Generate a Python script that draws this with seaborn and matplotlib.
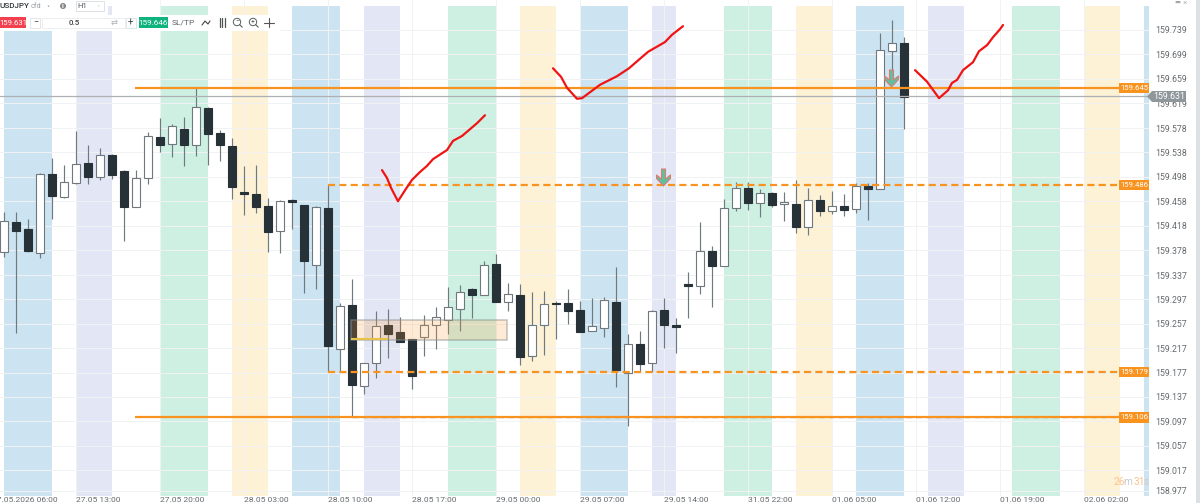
import matplotlib
matplotlib.use("Agg")
import matplotlib.pyplot as plt
import seaborn as sns
import pandas as pd
import numpy as np
from matplotlib.patches import Rectangle, Polygon, Circle
from matplotlib.path import Path
from matplotlib.transforms import Affine2D

# ---- candle data (hourly USDJPY) ----
opens = [159.375,159.424,159.412,159.373,159.503,159.465,159.488,159.521,159.498,159.534,159.508,159.448,159.496,159.563,159.552,159.576,159.550,159.611,159.570,159.549,159.473,159.470,159.450,159.409,159.460,159.452,159.353,159.447,159.216,159.288,159.155,159.193,159.255,159.243,159.232,159.235,159.255,159.263,159.281,159.314,159.304,159.355,159.293,159.304,159.204,159.255,159.291,159.291,159.280,159.245,159.250,159.293,159.176,159.224,159.193,159.280,159.255,159.322,159.319,159.376,159.352,159.447,159.480,159.455,159.471,159.453,159.453,159.416,159.460,159.442,159.450,159.445,159.483,159.478,159.704,159.717]
closes = [159.426,159.409,159.376,159.503,159.467,159.490,159.519,159.498,159.534,159.501,159.448,159.496,159.565,159.550,159.581,159.550,159.613,159.568,159.550,159.481,159.470,159.448,159.408,159.458,159.457,159.360,159.448,159.221,159.286,159.157,159.193,159.253,159.240,159.227,159.171,159.255,159.268,159.285,159.309,159.304,159.353,159.293,159.306,159.203,159.255,159.289,159.289,159.278,159.243,159.253,159.296,159.181,159.224,159.191,159.278,159.255,159.252,159.319,159.376,159.352,159.447,159.480,159.455,159.471,159.452,159.457,159.416,159.460,159.442,159.450,159.444,159.483,159.478,159.706,159.717,159.629]
highs = [159.440,159.440,159.429,159.504,159.529,159.517,159.573,159.550,159.545,159.535,159.509,159.509,159.572,159.594,159.585,159.596,159.644,159.613,159.575,159.562,159.516,159.517,159.463,159.460,159.461,159.452,159.450,159.485,159.291,159.330,159.193,159.278,159.281,159.268,159.232,159.271,159.285,159.317,159.321,159.316,159.360,159.371,159.324,159.322,159.309,159.311,159.294,159.314,159.294,159.299,159.301,159.350,159.240,159.245,159.280,159.299,159.266,159.342,159.424,159.385,159.462,159.490,159.490,159.478,159.473,159.473,159.493,159.480,159.468,159.475,159.470,159.488,159.488,159.734,159.755,159.727]
lows = [159.367,159.242,159.375,159.365,159.429,159.463,159.487,159.486,159.493,159.494,159.393,159.448,159.486,159.539,159.531,159.516,159.532,159.517,159.524,159.462,159.435,159.439,159.375,159.373,159.412,159.307,159.314,159.178,159.178,159.106,159.142,159.168,159.201,159.227,159.150,159.204,159.216,159.240,159.245,159.266,159.304,159.293,159.278,159.189,159.196,159.206,159.232,159.257,159.243,159.245,159.235,159.153,159.089,159.178,159.178,159.217,159.209,159.266,159.306,159.285,159.352,159.442,159.444,159.432,159.448,159.426,159.406,159.403,159.434,159.437,159.434,159.439,159.427,159.478,159.652,159.576]

# ---- session bands (candle index from/to, colour) ----
band_start = [0,6,13,19,24,30,37,43,48,54,60,66,71,77,84,90,95]
band_end   = [4,9,17,22,28,33,41,46,52,56,64,69,75,80,88,93,96]
band_color = [
    "#cce3f1","#e3e6f4","#cdf0e3","#fdf1d6","#cce3f1","#e3e6f4","#cdf0e3","#fdf1d6",
    "#cce3f1","#e3e6f4","#cdf0e3","#fdf1d6","#cce3f1","#e3e6f4","#cdf0e3","#fdf1d6","#cce3f1"]

# ---- horizontal levels ----
level_price = [159.644, 159.485, 159.178, 159.104]
level_start = [10.92, 27, 27, 10.92]
level_end   = [92.92, 92.92, 92.92, 92.92]
level_dash  = [False, True, True, False]
level_text  = ["159.645", "159.486", "159.179", "159.106"]
current_price = 159.630

# ---- hand-drawn red strokes ----
s1_x = [31.5,31.92,32.25,32.83,33.42,34,34.67,35.25,35.75,36.92,37.42,38.17,39.42,40.08]
s1_y = [159.509,159.496,159.480,159.458,159.476,159.493,159.506,159.516,159.527,159.542,159.557,159.565,159.586,159.599]
s2_x = [45.75,46.42,46.92,47.75,48.17,49.67,51.08,52.08,53.67,55.08,55.67,56.58]
s2_y = [159.676,159.662,159.644,159.626,159.627,159.649,159.663,159.676,159.703,159.719,159.731,159.745]
s3_x = [75.92,76.92,77.92,78.67,79,79.42,79.92,80.75,81.25,81.92,82.42,83,83.25]
s3_y = [159.673,159.654,159.627,159.640,159.652,159.657,159.673,159.686,159.704,159.714,159.727,159.740,159.747]

# ---- sell arrows ----
arrow_x = [54.92, 73.9]
arrow_y = [159.498, 159.660]

# ---- highlighted zone ----
zone_x = [28.92, 41.92]
zone_y = [159.230, 159.263]
zone_line_x = [28.92, 32.0]
zone_line_y = 159.232

# ---- axis ticks ----
y_tick_text = ["159.739","159.699","159.659","159.619","159.578","159.538","159.498","159.458","159.418","159.378",
               "159.337","159.297","159.257","159.217","159.177","159.137","159.097","159.057","159.017","158.977"]
x_tick_pos = [-1,6,13,20,27,34,41,48,55,62,69,76,83,90]
x_tick_text = ["27.05.2026 06:00","27.05 13:00","27.05 20:00","28.05 03:00","28.05 10:00","28.05 17:00",
               "29.05 00:00","29.05 07:00","29.05 14:00","31.05 22:00","01.06 05:00","01.06 12:00",
               "01.06 19:00","02.06 02:00"]

sns.set_theme(style="white")
plt.rcParams["font.family"] = ["Roboto", "DejaVu Sans"]

W, H = 1200, 503
fig = plt.figure(figsize=(W/100, H/100), dpi=100, facecolor="white")
ax = fig.add_axes([0, (H-496)/H, 1149/W, 496/H])
PX = Affine2D().scale(1, -1).translate(0, H)

df = pd.DataFrame({"i": np.arange(len(opens)), "o": opens, "h": highs, "l": lows, "c": closes})
df["top"] = df[["o", "c"]].max(axis=1)
df["bot"] = df[["o", "c"]].min(axis=1)
df["up"] = df["c"] >= df["o"]

ymax_frac = (496-6)/496
for a, b, col in zip(band_start, band_end, band_color):
    ax.axvspan(a, b, ymin=0, ymax=ymax_frac, color=col, lw=0, zorder=1)

y_ticks = [float(t) for t in y_tick_text]
y_ticks[-1] = 158.983
ax.set_yticks(y_ticks)
ax.set_yticklabels(y_tick_text)
ax.set_xticks(x_tick_pos[1:])
ax.set_xticklabels(x_tick_text[1:], ha="left")
ax.yaxis.tick_right()
ax.grid(True, color="#f1f2f3", lw=0.7, zorder=1.5)
ax.set_axisbelow(False)
for gl in ax.get_xgridlines() + ax.get_ygridlines():
    gl.set_zorder(1.5)
ax.tick_params(axis="y", length=0, pad=4.3, labelsize=6.3, labelcolor="#666a6d")
ax.tick_params(axis="x", length=0, pad=0.6, labelsize=6.1, labelcolor="#666a6d")
for s in ax.spines.values():
    s.set_visible(False)
ax.patch.set_alpha(0)

# wicks
ax.vlines(df["i"], df["l"], df["h"], color="#6f7a7f", lw=0.85, zorder=3)
# bodies
w = 0.66
for up, face, edge in [(True, "white", "#6f787c"), (False, "#263238", "#263238")]:
    d = df[df["up"] == up]
    ax.bar(d["i"], d["top"]-d["bot"], bottom=d["bot"], width=w, color=face,
           edgecolor=edge, linewidth=0.8, zorder=4)

# grey trace under the lower level
ax.hlines(level_price[3], 29, 92.92, color="#9aa0a3", lw=1.0, linestyles=(0, (4, 3)), zorder=4.5)
# level lines
for p, a, b, dashed in zip(level_price, level_start, level_end, level_dash):
    ax.hlines(p, a, b, color="#f7931e", lw=1.6, zorder=6,
              linestyles=(0, (3.2, 1.9)) if dashed else "solid")
# current price line
ax.axhline(current_price, color="#adb1b3", lw=0.9, zorder=5)

# zone
ax.add_patch(Rectangle((zone_x[0], zone_y[0]), zone_x[1]-zone_x[0], zone_y[1]-zone_y[0],
                       facecolor=(1.0, 0.6, 0.19, 0.2), edgecolor=(0.55, 0.57, 0.57, 0.5), lw=1.2, zorder=5))
ax.hlines(zone_line_y, zone_line_x[0], zone_line_x[1], color="#e6c24a", lw=1.5, zorder=5.5)

# red strokes
for sx, sy in [(s1_x, s1_y), (s2_x, s2_y), (s3_x, s3_y)]:
    sns.lineplot(x=sx, y=sy, sort=False, estimator=None, color="#f01414", lw=1.6, ax=ax,
                 legend=False, zorder=7)

# arrows
arrow_path = Path([(-2,8.5),(2,8.5),(2,-1.5),(7,2.5),(7,-1),(0,-8.5),(-7,-1),(-7,2.5),(-2,-1.5),(-2,8.5)], closed=True)
ax.plot(arrow_x, arrow_y, ls="none", marker=arrow_path, ms=12.2, mfc="#5fbf9f", mec="#e0796f", mew=0.8, zorder=8)

ax.set_xlim(-1/3, 1145/12)
ax.set_ylim(159.788-0.00164*496, 159.788)
ax.set_xlabel(""); ax.set_ylabel("")

# first time label starts left of the visible window
ax.annotate(x_tick_text[0], xy=(x_tick_pos[0], 0), xycoords=ax.get_xaxis_transform(),
            xytext=(0, -0.6), textcoords="offset points", ha="left", va="top",
            fontsize=6.1, color="#666a6d", annotation_clip=False)

# ---- overlays in pixel space ----
def box(x, y, w_, h_, fc, ec="none", z=20, lw=0.7):
    fig.add_artist(Rectangle((x, y), w_, h_, transform=PX, facecolor=fc, edgecolor=ec, lw=lw, zorder=z))
def label(x, y, s, size=6.3, color="#555", ha="center", weight="normal", z=22):
    fig.text(x, y, s, transform=PX, fontsize=size, color=color, ha=ha, va="center", fontweight=weight, zorder=z)

# price-level tags
for p, t in zip(level_price, level_text):
    yy = ax.transData.transform((0, p))[1]
    yy = H - yy
    box(1119, yy-5, 30, 10.5, "#f7931e", z=21)
    label(1134, yy+0.3, t, size=5.6, color="white")

# current price tag
fig.add_artist(Polygon([(1147,96.5),(1152,91),(1186,91),(1186,102),(1152,102)], closed=True, transform=PX,
                       facecolor="#8f979b", edgecolor="none", zorder=21))
label(1169, 96.7, "159.631", size=6.3, color="white")

# right strip
box(1196, 0, 4, H, "#dde1e4", z=19)

# toolbar
box(0, 0, 108, 15, "white", z=15)
box(0, 15, 280, 16, "white", z=15)
label(0, 6, "USDJPY", size=5.9, color="#33383b", ha="left", weight="medium")
label(35.5, 6.5, "cfd", size=5.2, color="#9aa0a4")
fig.add_artist(Polygon([(46,5),(51,5),(48.5,8)], transform=PX, facecolor="#6f7578", zorder=22))
fig.add_artist(Circle((63,6), 3.7, transform=PX, facecolor="#80868a", zorder=21))
label(63, 6, "i", size=5, color="white", weight="bold")
box(76, 1, 28, 10, "white", ec="#dfe2e4", z=21)
label(82, 6.2, "H1", size=5.6, color="#555a5d")
fig.add_artist(Polygon([(96.5,5),(101,5),(98.8,7.5)], transform=PX, facecolor="#6f7578", zorder=22))
box(-2, 17, 28, 11, "#f2404f", z=21)
label(13, 22.7, "159.631", size=5.6, color="white")
box(30, 17.5, 10, 10, "white", ec="#e3e5e7", z=21)
label(35.5, 22.5, "\u2212", size=6.5, color="#444")
box(42, 17.5, 83, 10, "white", ec="#eceeef", z=21)
label(74, 22.8, "0.5", size=5.8, color="#444", weight="medium")
label(114, 23, "\u21c4", size=6, color="#aeb3b6")
box(126, 17.5, 10, 10, "white", ec="#e3e5e7", z=21)
label(130.5, 22.5, "+", size=7, color="#444")
box(139, 17, 29, 11, "#0fb37d", z=21)
label(153.5, 22.7, "159.646", size=5.9, color="white")
label(183.5, 22.8, "SL/TP", size=6, color="#60666a")
# toolbar icons
fig.add_artist(plt.Line2D([202,205,208,210], [25,21,24,21], transform=PX, color="#444", lw=0.8, zorder=22))
for xx in [219.5, 222, 224.5]:
    fig.add_artist(plt.Line2D([xx,xx], [18,27], transform=PX, color="#4d5356", lw=0.9, zorder=22))
for cx, sign in [(237,"\u2212"),(253,"+")]:
    fig.add_artist(Circle((cx,22), 3.7, transform=PX, facecolor="white", edgecolor="#585e61", lw=0.7, zorder=22))
    fig.add_artist(plt.Line2D([cx+2.7,cx+5.2], [24.7,27.2], transform=PX, color="#585e61", lw=0.8, zorder=22))
    label(cx, 22, sign, size=5, color="#585e61", z=23)
fig.add_artist(plt.Line2D([264,274], [22.5,22.5], transform=PX, color="#555", lw=0.8, zorder=22))
fig.add_artist(plt.Line2D([269,269], [18,27], transform=PX, color="#555", lw=0.8, zorder=22))

# window controls
label(1177, 2.5, "\u25ac", size=4.5, color="#a3a7aa")
label(1185, 2.5, "\u00d7", size=6, color="#b5b9bc")

# countdown
for xx, s, col in [(1113,"26","#fcc288"),(1123.5,"m","#c9cccd"),(1134,"31","#fcc288"),(1144,"s","#c9cccd")]:
    label(xx, 482, s, size=7.3, color=col, ha="left")

fig.savefig("out.png", dpi=100)
